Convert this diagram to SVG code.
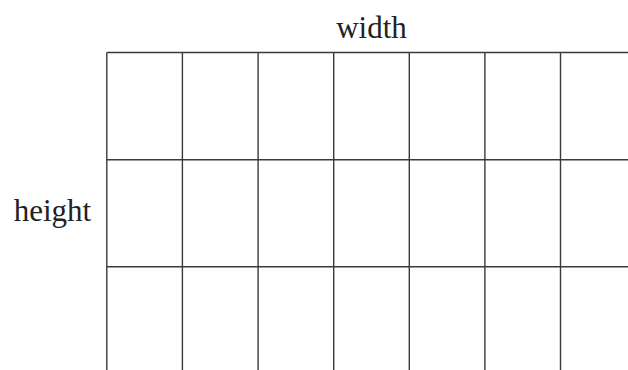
<svg xmlns="http://www.w3.org/2000/svg" width="628" height="370" viewBox="0 0 628 370">
<style>
.g line{stroke:#3a3a3a;stroke-width:1.4}
.t{font-family:"Liberation Serif","Times New Roman",serif;font-size:31px;fill:#222}
</style>
<rect width="628" height="370" fill="#fff"/>
<g id="grid" class="g">
<line x1="106.8" y1="52.5" x2="628" y2="52.5"/>
<line x1="106.8" y1="159.7" x2="628" y2="159.7"/>
<line x1="106.8" y1="266.8" x2="628" y2="266.8"/>
<line x1="106.8" y1="52.5" x2="106.8" y2="370"/>
<line x1="182.4" y1="52.5" x2="182.4" y2="370"/>
<line x1="258.1" y1="52.5" x2="258.1" y2="370"/>
<line x1="333.7" y1="52.5" x2="333.7" y2="370"/>
<line x1="409.3" y1="52.5" x2="409.3" y2="370"/>
<line x1="484.9" y1="52.5" x2="484.9" y2="370"/>
<line x1="560.5" y1="52.5" x2="560.5" y2="370"/>
</g>
<g id="label-width"><text class="t" x="371.5" y="37.5" text-anchor="middle">width</text></g>
<g id="label-height"><text class="t" x="52.5" y="220.5" text-anchor="middle">height</text></g>
</svg>
